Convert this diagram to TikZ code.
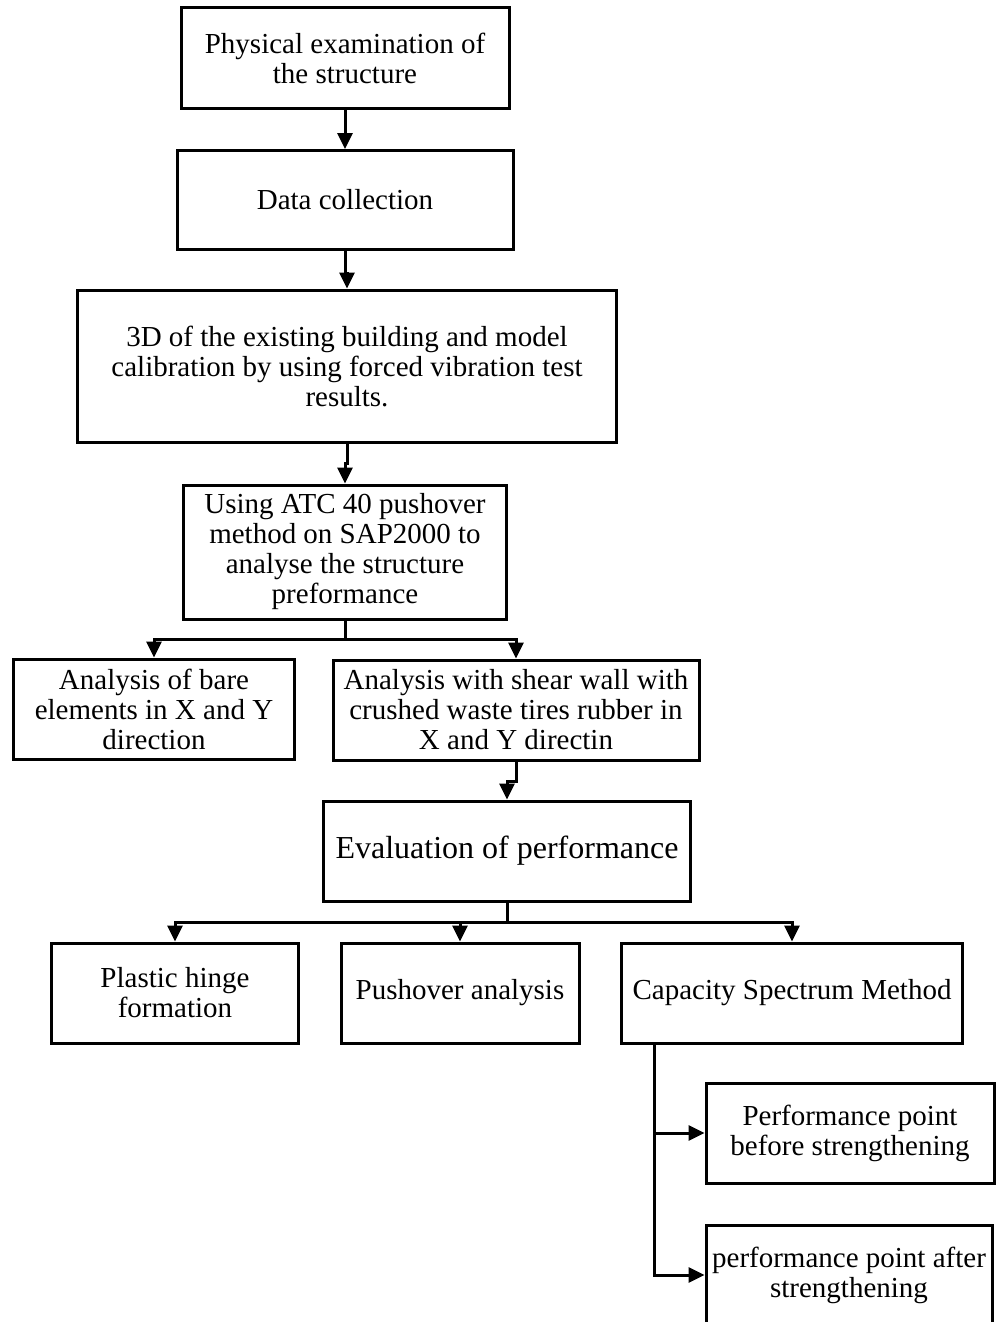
\documentclass[tikz,border=0pt]{standalone}
\usepackage{fontspec}
\setmainfont{Liberation Serif}
\usepackage{tikz}
\usetikzlibrary{arrows.meta}

\tikzstyle{stepbox} = [draw=black, fill=white, line width=3pt, rectangle,
inner sep=3pt, align=center, font=\fontsize{29}{30}\selectfont]
\tikzstyle{flowarrow} = [line width=3pt, -{Triangle[length=16pt,width=15pt]}]

\begin{document}
\begin{tikzpicture}[x=1pt, y=-1pt]
        \useasboundingbox (0,0) rectangle (996,1322);
        % main chain
        \node [stepbox, minimum width=328pt, minimum height=100pt] (phys) at (345,58)
            {Physical examination of\\the structure};
        \node [stepbox, minimum width=336pt, minimum height=99pt] (data) at (345,200)
            {Data collection};
        \node [stepbox, minimum width=539pt, minimum height=152pt] (model) at (347,366)
            {3D of the existing building and model\\calibration by using forced vibration test\\results.};
        \node [stepbox, minimum width=323pt, minimum height=134pt] (atc) at (345,552)
            {Using ATC 40 pushover\\method on SAP2000 to\\analyse the structure\\preformance};
        % the two analyses
        \node [stepbox, minimum width=281pt, minimum height=100pt] (bare) at (154,709)
            {Analysis of bare\\elements in X and Y\\direction};
        \node [stepbox, minimum width=366pt, minimum height=100pt] (shear) at (516,710)
            {Analysis with shear wall with\\crushed waste tires rubber in\\X and Y directin};
        \node [stepbox, minimum width=367pt, minimum height=100pt,
            font=\fontsize{32}{34}\selectfont] (eval) at (507,851)
            {Evaluation of performance};
        % results
        \node [stepbox, minimum width=247pt, minimum height=100pt] (hinge) at (175,993)
            {Plastic hinge\\formation};
        \node [stepbox, minimum width=238pt, minimum height=100pt] (push) at (460,993)
            {Pushover analysis};
        \node [stepbox, minimum width=341pt, minimum height=100pt] (csm) at (792,993)
            {Capacity Spectrum Method};
        \node [stepbox, minimum width=288pt, minimum height=100pt] (before) at (850,1133)
            {Performance point\\before strengthening};
        \node [stepbox, minimum width=286pt, minimum height=100pt] (after) at (849,1275)
            {performance point after\\strengthening};

        \draw [flowarrow] (phys) -- (data);
        \draw [flowarrow] (data.south) -- ++(0,22) -| (model.north);
        \draw [flowarrow] (model.south) -- ++(0,20) -| (atc.north);
        \draw [flowarrow] (atc.south) -- ++(0,19) -| (bare.north);
        \draw [flowarrow] (atc.south) -- ++(0,19) -| (shear.north);
        \draw [flowarrow] (shear.south) -- ++(0,20) -| (eval.north);
        \draw [flowarrow] (eval.south) -- ++(0,20) -| (hinge.north);
        \draw [flowarrow] (eval.south) -- ++(0,20) -| (push.north);
        \draw [flowarrow] (eval.south) -- ++(0,20) -| (csm.north);
        \draw [flowarrow] ([xshift=34pt]csm.south west) |- (before.west);
        \draw [flowarrow] ([xshift=34pt]csm.south west) |- (after.west);
    \end{tikzpicture}
\end{document}
